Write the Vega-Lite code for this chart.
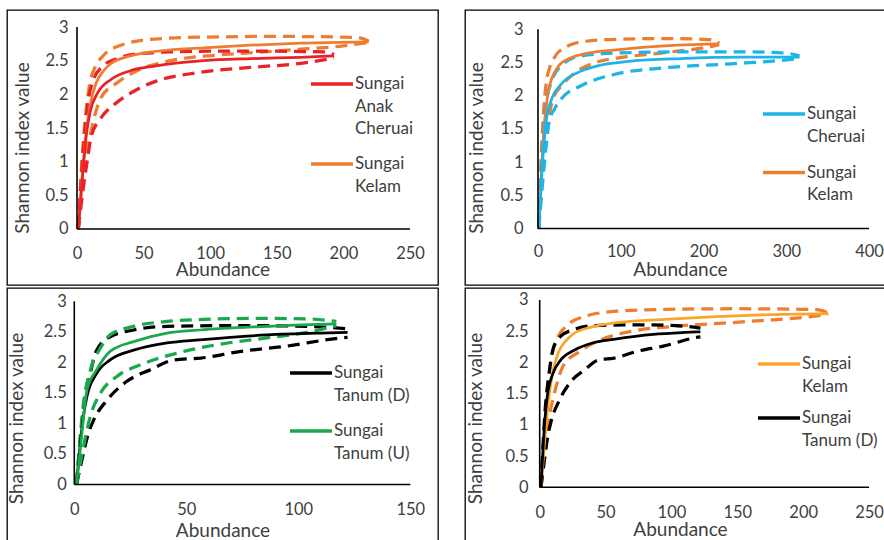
{
"$schema": "https://vega.github.io/schema/vega-lite/v6.json",
"padding": {"left": 6, "top": 9, "right": 0, "bottom": 0},
"spacing": 1,
"config": {
  "view": {"stroke": "#000000", "strokeWidth": 1.3},
  "font": "Lato",
  "axis": {"grid": false, "domain": false, "ticks": false, "labelFont": "Lato", "labelFontSize": 16.5, "labelColor": "#404040", "titleFont": "Lato", "titleFontSize": 19, "titleColor": "#404040", "titleFontWeight": "normal"},
  "legend": {"orient": "none", "symbolType": "stroke", "symbolSize": 1764, "symbolStrokeWidth": 3.5, "labelFont": "Lato", "labelFontSize": 17, "labelColor": "#404040", "labelOffset": 0, "padding": 0, "title": null, "labelLimit": 200, "direction": "vertical"}
},
"datasets": {
"rare": [
{"series":"Sungai Kelam","bound":"est","x":1,"y":0},{"series":"Sungai Kelam","bound":"est","x":4,"y":0.8},{"series":"Sungai Kelam","bound":"est","x":7,"y":1.45},{"series":"Sungai Kelam","bound":"est","x":10,"y":1.85},{"series":"Sungai Kelam","bound":"est","x":14,"y":2.15},{"series":"Sungai Kelam","bound":"est","x":20,"y":2.35},{"series":"Sungai Kelam","bound":"est","x":25,"y":2.45},{"series":"Sungai Kelam","bound":"est","x":40,"y":2.57},{"series":"Sungai Kelam","bound":"est","x":60,"y":2.64},{"series":"Sungai Kelam","bound":"est","x":95,"y":2.69},{"series":"Sungai Kelam","bound":"est","x":130,"y":2.73},{"series":"Sungai Kelam","bound":"est","x":168,"y":2.76},{"series":"Sungai Kelam","bound":"est","x":219,"y":2.78},
{"series":"Sungai Kelam","bound":"hi","x":1,"y":0},{"series":"Sungai Kelam","bound":"hi","x":4,"y":1.1},{"series":"Sungai Kelam","bound":"hi","x":7,"y":1.8},{"series":"Sungai Kelam","bound":"hi","x":10,"y":2.2},{"series":"Sungai Kelam","bound":"hi","x":14,"y":2.42},{"series":"Sungai Kelam","bound":"hi","x":20,"y":2.58},{"series":"Sungai Kelam","bound":"hi","x":33,"y":2.73},{"series":"Sungai Kelam","bound":"hi","x":58,"y":2.82},{"series":"Sungai Kelam","bound":"hi","x":95,"y":2.85},{"series":"Sungai Kelam","bound":"hi","x":150,"y":2.86},{"series":"Sungai Kelam","bound":"hi","x":200,"y":2.85},{"series":"Sungai Kelam","bound":"hi","x":212,"y":2.84},{"series":"Sungai Kelam","bound":"hi","x":219,"y":2.79},
{"series":"Sungai Kelam","bound":"lo","x":1,"y":0},{"series":"Sungai Kelam","bound":"lo","x":4,"y":0.6},{"series":"Sungai Kelam","bound":"lo","x":7,"y":1.1},{"series":"Sungai Kelam","bound":"lo","x":10.5,"y":1.45},{"series":"Sungai Kelam","bound":"lo","x":18,"y":1.95},{"series":"Sungai Kelam","bound":"lo","x":30,"y":2.17},{"series":"Sungai Kelam","bound":"lo","x":45,"y":2.35},{"series":"Sungai Kelam","bound":"lo","x":70,"y":2.5},{"series":"Sungai Kelam","bound":"lo","x":103,"y":2.58},{"series":"Sungai Kelam","bound":"lo","x":140,"y":2.63},{"series":"Sungai Kelam","bound":"lo","x":168,"y":2.67},{"series":"Sungai Kelam","bound":"lo","x":200,"y":2.72},{"series":"Sungai Kelam","bound":"lo","x":219,"y":2.77},
{"series":"Sungai Anak Cheruai","bound":"est","x":1,"y":0},{"series":"Sungai Anak Cheruai","bound":"est","x":4,"y":0.75},{"series":"Sungai Anak Cheruai","bound":"est","x":7,"y":1.4},{"series":"Sungai Anak Cheruai","bound":"est","x":10,"y":1.75},{"series":"Sungai Anak Cheruai","bound":"est","x":15.5,"y":2.02},{"series":"Sungai Anak Cheruai","bound":"est","x":25.5,"y":2.22},{"series":"Sungai Anak Cheruai","bound":"est","x":40,"y":2.35},{"series":"Sungai Anak Cheruai","bound":"est","x":58,"y":2.42},{"series":"Sungai Anak Cheruai","bound":"est","x":95,"y":2.5},{"series":"Sungai Anak Cheruai","bound":"est","x":130,"y":2.53},{"series":"Sungai Anak Cheruai","bound":"est","x":168,"y":2.55},{"series":"Sungai Anak Cheruai","bound":"est","x":193,"y":2.57},
{"series":"Sungai Anak Cheruai","bound":"hi","x":1,"y":0},{"series":"Sungai Anak Cheruai","bound":"hi","x":4,"y":1.0},{"series":"Sungai Anak Cheruai","bound":"hi","x":8,"y":1.85},{"series":"Sungai Anak Cheruai","bound":"hi","x":12,"y":2.2},{"series":"Sungai Anak Cheruai","bound":"hi","x":20,"y":2.43},{"series":"Sungai Anak Cheruai","bound":"hi","x":30,"y":2.53},{"series":"Sungai Anak Cheruai","bound":"hi","x":45,"y":2.6},{"series":"Sungai Anak Cheruai","bound":"hi","x":70,"y":2.63},{"series":"Sungai Anak Cheruai","bound":"hi","x":100,"y":2.64},{"series":"Sungai Anak Cheruai","bound":"hi","x":150,"y":2.64},{"series":"Sungai Anak Cheruai","bound":"hi","x":185,"y":2.63},{"series":"Sungai Anak Cheruai","bound":"hi","x":193,"y":2.59},
{"series":"Sungai Anak Cheruai","bound":"lo","x":1,"y":0},{"series":"Sungai Anak Cheruai","bound":"lo","x":5,"y":0.65},{"series":"Sungai Anak Cheruai","bound":"lo","x":8,"y":1.05},{"series":"Sungai Anak Cheruai","bound":"lo","x":10.5,"y":1.36},{"series":"Sungai Anak Cheruai","bound":"lo","x":18,"y":1.65},{"series":"Sungai Anak Cheruai","bound":"lo","x":28,"y":1.85},{"series":"Sungai Anak Cheruai","bound":"lo","x":43,"y":2.05},{"series":"Sungai Anak Cheruai","bound":"lo","x":60,"y":2.2},{"series":"Sungai Anak Cheruai","bound":"lo","x":90,"y":2.32},{"series":"Sungai Anak Cheruai","bound":"lo","x":130,"y":2.4},{"series":"Sungai Anak Cheruai","bound":"lo","x":168,"y":2.46},{"series":"Sungai Anak Cheruai","bound":"lo","x":193,"y":2.54},
{"series":"Sungai Cheruai","bound":"est","x":1,"y":0},{"series":"Sungai Cheruai","bound":"est","x":5,"y":0.9},{"series":"Sungai Cheruai","bound":"est","x":9.7,"y":1.6},{"series":"Sungai Cheruai","bound":"est","x":15.7,"y":1.92},{"series":"Sungai Cheruai","bound":"est","x":27.8,"y":2.17},{"series":"Sungai Cheruai","bound":"est","x":52,"y":2.37},{"series":"Sungai Cheruai","bound":"est","x":72,"y":2.45},{"series":"Sungai Cheruai","bound":"est","x":112,"y":2.52},{"series":"Sungai Cheruai","bound":"est","x":173,"y":2.56},{"series":"Sungai Cheruai","bound":"est","x":250,"y":2.58},{"series":"Sungai Cheruai","bound":"est","x":316,"y":2.58},
{"series":"Sungai Cheruai","bound":"hi","x":1,"y":0},{"series":"Sungai Cheruai","bound":"hi","x":5,"y":1.2},{"series":"Sungai Cheruai","bound":"hi","x":10,"y":1.9},{"series":"Sungai Cheruai","bound":"hi","x":16,"y":2.2},{"series":"Sungai Cheruai","bound":"hi","x":27.8,"y":2.45},{"series":"Sungai Cheruai","bound":"hi","x":52,"y":2.6},{"series":"Sungai Cheruai","bound":"hi","x":112,"y":2.65},{"series":"Sungai Cheruai","bound":"hi","x":173,"y":2.66},{"series":"Sungai Cheruai","bound":"hi","x":260,"y":2.66},{"series":"Sungai Cheruai","bound":"hi","x":300,"y":2.64},{"series":"Sungai Cheruai","bound":"hi","x":316,"y":2.6},
{"series":"Sungai Cheruai","bound":"lo","x":1,"y":0},{"series":"Sungai Cheruai","bound":"lo","x":5,"y":0.6},{"series":"Sungai Cheruai","bound":"lo","x":9.7,"y":1.22},{"series":"Sungai Cheruai","bound":"lo","x":13.7,"y":1.62},{"series":"Sungai Cheruai","bound":"lo","x":20,"y":1.8},{"series":"Sungai Cheruai","bound":"lo","x":28,"y":1.95},{"series":"Sungai Cheruai","bound":"lo","x":52,"y":2.15},{"series":"Sungai Cheruai","bound":"lo","x":92,"y":2.32},{"series":"Sungai Cheruai","bound":"lo","x":153,"y":2.42},{"series":"Sungai Cheruai","bound":"lo","x":233,"y":2.48},{"series":"Sungai Cheruai","bound":"lo","x":292,"y":2.53},{"series":"Sungai Cheruai","bound":"lo","x":316,"y":2.56},
{"series":"Sungai Tanum (D)","bound":"est","x":1,"y":0},{"series":"Sungai Tanum (D)","bound":"est","x":4,"y":1.1},{"series":"Sungai Tanum (D)","bound":"est","x":5.7,"y":1.45},{"series":"Sungai Tanum (D)","bound":"est","x":10,"y":1.82},{"series":"Sungai Tanum (D)","bound":"est","x":16,"y":2.04},{"series":"Sungai Tanum (D)","bound":"est","x":26.5,"y":2.2},{"series":"Sungai Tanum (D)","bound":"est","x":41.4,"y":2.32},{"series":"Sungai Tanum (D)","bound":"est","x":56,"y":2.37},{"series":"Sungai Tanum (D)","bound":"est","x":86,"y":2.45},{"series":"Sungai Tanum (D)","bound":"est","x":110,"y":2.48},{"series":"Sungai Tanum (D)","bound":"est","x":122,"y":2.49},
{"series":"Sungai Tanum (D)","bound":"hi","x":1,"y":0},{"series":"Sungai Tanum (D)","bound":"hi","x":4,"y":1.2},{"series":"Sungai Tanum (D)","bound":"hi","x":7,"y":1.8},{"series":"Sungai Tanum (D)","bound":"hi","x":10,"y":2.2},{"series":"Sungai Tanum (D)","bound":"hi","x":16,"y":2.42},{"series":"Sungai Tanum (D)","bound":"hi","x":26.5,"y":2.53},{"series":"Sungai Tanum (D)","bound":"hi","x":41.4,"y":2.59},{"series":"Sungai Tanum (D)","bound":"hi","x":64,"y":2.6},{"series":"Sungai Tanum (D)","bound":"hi","x":86,"y":2.6},{"series":"Sungai Tanum (D)","bound":"hi","x":110,"y":2.58},{"series":"Sungai Tanum (D)","bound":"hi","x":122,"y":2.55},
{"series":"Sungai Tanum (D)","bound":"lo","x":1,"y":0},{"series":"Sungai Tanum (D)","bound":"lo","x":4,"y":0.5},{"series":"Sungai Tanum (D)","bound":"lo","x":6,"y":0.8},{"series":"Sungai Tanum (D)","bound":"lo","x":8.7,"y":1.06},{"series":"Sungai Tanum (D)","bound":"lo","x":14.6,"y":1.38},{"series":"Sungai Tanum (D)","bound":"lo","x":23.5,"y":1.69},{"series":"Sungai Tanum (D)","bound":"lo","x":34,"y":1.88},{"series":"Sungai Tanum (D)","bound":"lo","x":44.7,"y":2.04},{"series":"Sungai Tanum (D)","bound":"lo","x":56.5,"y":2.07},{"series":"Sungai Tanum (D)","bound":"lo","x":74.4,"y":2.18},{"series":"Sungai Tanum (D)","bound":"lo","x":93.7,"y":2.26},{"series":"Sungai Tanum (D)","bound":"lo","x":119,"y":2.4},{"series":"Sungai Tanum (D)","bound":"lo","x":122,"y":2.41},
{"series":"Sungai Tanum (U)","bound":"est","x":1,"y":0},{"series":"Sungai Tanum (U)","bound":"est","x":3,"y":0.7},{"series":"Sungai Tanum (U)","bound":"est","x":5.7,"y":1.55},{"series":"Sungai Tanum (U)","bound":"est","x":10,"y":1.88},{"series":"Sungai Tanum (U)","bound":"est","x":16,"y":2.18},{"series":"Sungai Tanum (U)","bound":"est","x":26.5,"y":2.34},{"series":"Sungai Tanum (U)","bound":"est","x":41.4,"y":2.48},{"series":"Sungai Tanum (U)","bound":"est","x":56,"y":2.53},{"series":"Sungai Tanum (U)","bound":"est","x":86,"y":2.59},{"series":"Sungai Tanum (U)","bound":"est","x":105,"y":2.62},{"series":"Sungai Tanum (U)","bound":"est","x":117,"y":2.63},
{"series":"Sungai Tanum (U)","bound":"hi","x":1,"y":0},{"series":"Sungai Tanum (U)","bound":"hi","x":4,"y":1.3},{"series":"Sungai Tanum (U)","bound":"hi","x":7,"y":1.85},{"series":"Sungai Tanum (U)","bound":"hi","x":11.6,"y":2.23},{"series":"Sungai Tanum (U)","bound":"hi","x":16,"y":2.45},{"series":"Sungai Tanum (U)","bound":"hi","x":26.5,"y":2.59},{"series":"Sungai Tanum (U)","bound":"hi","x":41.4,"y":2.67},{"series":"Sungai Tanum (U)","bound":"hi","x":63.7,"y":2.71},{"series":"Sungai Tanum (U)","bound":"hi","x":86,"y":2.72},{"series":"Sungai Tanum (U)","bound":"hi","x":105,"y":2.71},{"series":"Sungai Tanum (U)","bound":"hi","x":117,"y":2.67},
{"series":"Sungai Tanum (U)","bound":"lo","x":1,"y":0},{"series":"Sungai Tanum (U)","bound":"lo","x":4,"y":0.6},{"series":"Sungai Tanum (U)","bound":"lo","x":7.1,"y":1.11},{"series":"Sungai Tanum (U)","bound":"lo","x":11.6,"y":1.49},{"series":"Sungai Tanum (U)","bound":"lo","x":19,"y":1.77},{"series":"Sungai Tanum (U)","bound":"lo","x":29.5,"y":1.96},{"series":"Sungai Tanum (U)","bound":"lo","x":45.8,"y":2.15},{"series":"Sungai Tanum (U)","bound":"lo","x":63.7,"y":2.29},{"series":"Sungai Tanum (U)","bound":"lo","x":86,"y":2.4},{"series":"Sungai Tanum (U)","bound":"lo","x":105,"y":2.5},{"series":"Sungai Tanum (U)","bound":"lo","x":117,"y":2.6}
]
},
"vconcat": [
{"hconcat": [
{
 "width": 431, "height": 275,
 "layer": [
  {"data": {"name": "rare"},
   "transform": [{"filter": "indexof(['Sungai Anak Cheruai','Sungai Kelam'], datum.series) >= 0 && datum.bound != 'est'"}],
   "mark": {"type": "line", "strokeDash": [12, 7], "strokeWidth": 3.25, "interpolate": "monotone"},
   "encoding": {
    "x": {"field": "x", "type": "quantitative", "scale": {"domain": [-52.55, 271.0], "nice": false, "zero": false}, "axis": {"values": [0, 50, 100, 150, 200, 250], "format": "d", "offset": -56, "title": "Abundance", "labelPadding": 16, "titlePadding": -1}},
    "y": {"field": "y", "type": "quantitative", "scale": {"domain": [-0.8317, 3.2525], "nice": false, "zero": false}, "axis": {"values": [0, 0.5, 1, 1.5, 2, 2.5, 3], "format": "~g", "offset": -70, "title": "Shannon index value", "labelPadding": 9, "titlePadding": 12}},
    "color": {"field": "series", "type": "nominal", "scale": {"domain": ["Sungai Anak Cheruai", "Sungai Kelam"], "range": ["#EA2129", "#EE7D2F"]}, "legend": null},
    "detail": {"field": "bound"}}},
  {"data": {"name": "rare"},
   "transform": [{"filter": "indexof(['Sungai Anak Cheruai','Sungai Kelam'], datum.series) >= 0 && datum.bound == 'est'"}],
   "mark": {"type": "line", "strokeWidth": 2.75, "interpolate": "monotone"},
   "encoding": {
    "x": {"field": "x", "type": "quantitative", "scale": {"domain": [-52.55, 271.0], "nice": false, "zero": false}, "axis": {"values": [0, 50, 100, 150, 200, 250], "format": "d", "offset": -56, "title": "Abundance", "labelPadding": 16, "titlePadding": -1}},
    "y": {"field": "y", "type": "quantitative", "scale": {"domain": [-0.8317, 3.2525], "nice": false, "zero": false}, "axis": {"values": [0, 0.5, 1, 1.5, 2, 2.5, 3], "format": "~g", "offset": -70, "title": "Shannon index value", "labelPadding": 9, "titlePadding": 12}},
    "color": {"field": "series", "type": "nominal", "scale": {"domain": ["Sungai Anak Cheruai", "Sungai Kelam"], "range": ["#EA2129", "#EE7D2F"]},
      "legend": {"legendX": 302, "legendY": 51, "rowPadding": 4, "labelExpr": "datum.label == 'Sungai Anak Cheruai' ? ['Sungai','Anak','Cheruai'] : ['Sungai', slice(datum.label, 7)]", "encoding": {"labels": {"lineHeight": {"value": 22.5}}}}}}},
  {"data": {"values": [{}]}, "mark": {"type": "rule", "color": "#000000", "strokeWidth": 1.6},
   "encoding": {"x": {"datum": 0, "type": "quantitative", "scale": {"domain": [-52.55, 271.0], "nice": false, "zero": false}},
                "y": {"datum": 0, "type": "quantitative", "scale": {"domain": [-0.8317, 3.2525], "nice": false, "zero": false}},
                "y2": {"datum": 3}}},
  {"data": {"values": [{}]}, "mark": {"type": "rule", "color": "#000000", "strokeWidth": 1.6},
   "encoding": {"x": {"datum": 0, "type": "quantitative", "scale": {"domain": [-52.55, 271.0], "nice": false, "zero": false}},
                "x2": {"datum": 250},
                "y": {"datum": 0, "type": "quantitative", "scale": {"domain": [-0.8317, 3.2525], "nice": false, "zero": false}}}}
 ],
 "resolve": {"scale": {"color": "independent"}}
},
{
 "width": 430, "height": 275,
 "layer": [
  {"data": {"name": "rare"},
   "transform": [{"filter": "indexof(['Sungai Cheruai','Sungai Kelam'], datum.series) >= 0 && datum.bound != 'est'"}],
   "mark": {"type": "line", "strokeDash": [12, 7], "strokeWidth": 3.25, "interpolate": "monotone"},
   "encoding": {
    "x": {"field": "x", "type": "quantitative", "scale": {"domain": [-88.2, 431.4], "nice": false, "zero": false}, "axis": {"values": [0, 100, 200, 300, 400], "format": "d", "offset": -56.5, "title": "Abundance", "labelPadding": 15, "titlePadding": 0.5}},
    "y": {"field": "y", "type": "quantitative", "scale": {"domain": [-0.851, 3.2907], "nice": false, "zero": false}, "axis": {"values": [0, 0.5, 1, 1.5, 2, 2.5, 3], "format": "~g", "offset": -73, "title": "Shannon index value", "labelPadding": 15, "titlePadding": 13}},
    "color": {"field": "series", "type": "nominal", "scale": {"domain": ["Sungai Cheruai", "Sungai Kelam"], "range": ["#1DB4E6", "#EE7D2F"]}, "legend": null},
    "detail": {"field": "bound"}}},
  {"data": {"name": "rare"},
   "transform": [{"filter": "indexof(['Sungai Cheruai','Sungai Kelam'], datum.series) >= 0 && datum.bound == 'est'"}],
   "mark": {"type": "line", "strokeWidth": 2.75, "interpolate": "monotone"},
   "encoding": {
    "x": {"field": "x", "type": "quantitative", "scale": {"domain": [-88.2, 431.4], "nice": false, "zero": false}, "axis": {"values": [0, 100, 200, 300, 400], "format": "d", "offset": -56.5, "title": "Abundance", "labelPadding": 15, "titlePadding": 0.5}},
    "y": {"field": "y", "type": "quantitative", "scale": {"domain": [-0.851, 3.2907], "nice": false, "zero": false}, "axis": {"values": [0, 0.5, 1, 1.5, 2, 2.5, 3], "format": "~g", "offset": -73, "title": "Shannon index value", "labelPadding": 15, "titlePadding": 13}},
    "color": {"field": "series", "type": "nominal", "scale": {"domain": ["Sungai Cheruai", "Sungai Kelam"], "range": ["#1DB4E6", "#EE7D2F"]},
      "legend": {"legendX": 296, "legendY": 81, "rowPadding": 4.5, "labelExpr": "['Sungai', slice(datum.label, 7)]", "encoding": {"labels": {"lineHeight": {"value": 22.5}}}}}}},
  {"data": {"values": [{}]}, "mark": {"type": "rule", "color": "#000000", "strokeWidth": 1.6},
   "encoding": {"x": {"datum": 0, "type": "quantitative", "scale": {"domain": [-88.2, 431.4], "nice": false, "zero": false}},
                "y": {"datum": 0, "type": "quantitative", "scale": {"domain": [-0.851, 3.2907], "nice": false, "zero": false}},
                "y2": {"datum": 3}}},
  {"data": {"values": [{}]}, "mark": {"type": "rule", "color": "#000000", "strokeWidth": 1.6},
   "encoding": {"x": {"datum": 0, "type": "quantitative", "scale": {"domain": [-88.2, 431.4], "nice": false, "zero": false}},
                "x2": {"datum": 400},
                "y": {"datum": 0, "type": "quantitative", "scale": {"domain": [-0.851, 3.2907], "nice": false, "zero": false}}}}
 ],
 "resolve": {"scale": {"color": "independent"}}
}
], "spacing": 25},
{"hconcat": [
{
 "width": 431, "height": 260,
 "layer": [
  {"data": {"name": "rare"},
   "transform": [{"filter": "indexof(['Sungai Tanum (D)','Sungai Tanum (U)'], datum.series) >= 0 && datum.bound != 'est'"}],
   "mark": {"type": "line", "strokeDash": [12, 7], "strokeWidth": 3.25, "interpolate": "monotone"},
   "encoding": {
    "x": {"field": "x", "type": "quantitative", "scale": {"domain": [-30.04, 162.37], "nice": false, "zero": false}, "axis": {"values": [0, 50, 100, 150], "format": "d", "offset": -63.5, "title": "Abundance", "labelPadding": 17, "titlePadding": 3}},
    "y": {"field": "y", "type": "quantitative", "scale": {"domain": [-1.0398, 3.2178], "nice": false, "zero": false}, "axis": {"values": [0, 0.5, 1, 1.5, 2, 2.5, 3], "format": "~g", "offset": -67.3, "title": "Shannon index value", "labelPadding": 8, "titlePadding": 17}},
    "color": {"field": "series", "type": "nominal", "scale": {"domain": ["Sungai Tanum (D)", "Sungai Tanum (U)"], "range": ["#000000", "#19A84B"]}, "legend": null},
    "detail": {"field": "bound"}}},
  {"data": {"name": "rare"},
   "transform": [{"filter": "indexof(['Sungai Tanum (D)','Sungai Tanum (U)'], datum.series) >= 0 && datum.bound == 'est'"}],
   "mark": {"type": "line", "strokeWidth": 2.75, "interpolate": "monotone"},
   "encoding": {
    "x": {"field": "x", "type": "quantitative", "scale": {"domain": [-30.04, 162.37], "nice": false, "zero": false}, "axis": {"values": [0, 50, 100, 150], "format": "d", "offset": -63.5, "title": "Abundance", "labelPadding": 17, "titlePadding": 3}},
    "y": {"field": "y", "type": "quantitative", "scale": {"domain": [-1.0398, 3.2178], "nice": false, "zero": false}, "axis": {"values": [0, 0.5, 1, 1.5, 2, 2.5, 3], "format": "~g", "offset": -67.3, "title": "Shannon index value", "labelPadding": 8, "titlePadding": 17}},
    "color": {"field": "series", "type": "nominal", "scale": {"domain": ["Sungai Tanum (D)", "Sungai Tanum (U)"], "range": ["#000000", "#19A84B"]},
      "legend": {"legendX": 281, "legendY": 62, "rowPadding": 4, "labelExpr": "['Sungai', slice(datum.label, 7)]", "encoding": {"labels": {"lineHeight": {"value": 22.5}}}}}}},
  {"data": {"values": [{}]}, "mark": {"type": "rule", "color": "#000000", "strokeWidth": 1.6},
   "encoding": {"x": {"datum": 0, "type": "quantitative", "scale": {"domain": [-30.04, 162.37], "nice": false, "zero": false}},
                "y": {"datum": 0, "type": "quantitative", "scale": {"domain": [-1.0398, 3.2178], "nice": false, "zero": false}},
                "y2": {"datum": 3}}},
  {"data": {"values": [{}]}, "mark": {"type": "rule", "color": "#000000", "strokeWidth": 1.6},
   "encoding": {"x": {"datum": 0, "type": "quantitative", "scale": {"domain": [-30.04, 162.37], "nice": false, "zero": false}},
                "x2": {"datum": 150},
                "y": {"datum": 0, "type": "quantitative", "scale": {"domain": [-1.0398, 3.2178], "nice": false, "zero": false}}}}
 ],
 "resolve": {"scale": {"color": "independent"}}
},
{
 "width": 430, "height": 260,
 "layer": [
  {"data": {"name": "rare"},
   "transform": [{"filter": "indexof(['Sungai Kelam','Sungai Tanum (D)'], datum.series) >= 0 && datum.bound != 'est'"}],
   "mark": {"type": "line", "strokeDash": [12, 7], "strokeWidth": 3.25, "interpolate": "monotone"},
   "encoding": {
    "x": {"field": "x", "type": "quantitative", "scale": {"domain": [-56.7, 269.7], "nice": false, "zero": false}, "axis": {"values": [0, 50, 100, 150, 200, 250], "format": "d", "offset": -60.7, "title": "Abundance", "labelPadding": 17, "titlePadding": -0.5}},
    "y": {"field": "y", "type": "quantitative", "scale": {"domain": [-0.9723, 3.1922], "nice": false, "zero": false}, "axis": {"values": [0, 0.5, 1, 1.5, 2, 2.5, 3], "format": "~g", "offset": -74.7, "title": "Shannon index value", "labelPadding": 11.7, "titlePadding": 19}},
    "color": {"field": "series", "type": "nominal", "scale": {"domain": ["Sungai Kelam", "Sungai Tanum (D)"], "range": ["#EE7D2F", "#000000"]}, "legend": null},
    "detail": {"field": "bound"}}},
  {"data": {"name": "rare"},
   "transform": [{"filter": "indexof(['Sungai Kelam','Sungai Tanum (D)'], datum.series) >= 0 && datum.bound == 'est'"}],
   "mark": {"type": "line", "strokeWidth": 2.75, "interpolate": "monotone"},
   "encoding": {
    "x": {"field": "x", "type": "quantitative", "scale": {"domain": [-56.7, 269.7], "nice": false, "zero": false}, "axis": {"values": [0, 50, 100, 150, 200, 250], "format": "d", "offset": -60.7, "title": "Abundance", "labelPadding": 17, "titlePadding": -0.5}},
    "y": {"field": "y", "type": "quantitative", "scale": {"domain": [-0.9723, 3.1922], "nice": false, "zero": false}, "axis": {"values": [0, 0.5, 1, 1.5, 2, 2.5, 3], "format": "~g", "offset": -74.7, "title": "Shannon index value", "labelPadding": 11.7, "titlePadding": 19}},
    "color": {"field": "series", "type": "nominal", "scale": {"domain": ["Sungai Kelam", "Sungai Tanum (D)"], "range": ["#FAA52A", "#000000"]},
      "legend": {"legendX": 291, "legendY": 53, "rowPadding": 0, "labelExpr": "['Sungai', slice(datum.label, 7)]", "encoding": {"labels": {"lineHeight": {"value": 22.5}}}}}}},
  {"data": {"values": [{}]}, "mark": {"type": "rule", "color": "#000000", "strokeWidth": 1.6},
   "encoding": {"x": {"datum": 0, "type": "quantitative", "scale": {"domain": [-56.7, 269.7], "nice": false, "zero": false}},
                "y": {"datum": 0, "type": "quantitative", "scale": {"domain": [-0.9723, 3.1922], "nice": false, "zero": false}},
                "y2": {"datum": 3}}},
  {"data": {"values": [{}]}, "mark": {"type": "rule", "color": "#000000", "strokeWidth": 1.6},
   "encoding": {"x": {"datum": 0, "type": "quantitative", "scale": {"domain": [-56.7, 269.7], "nice": false, "zero": false}},
                "x2": {"datum": 250},
                "y": {"datum": 0, "type": "quantitative", "scale": {"domain": [-0.9723, 3.1922], "nice": false, "zero": false}}}}
 ],
 "resolve": {"scale": {"color": "independent"}}
}
], "spacing": 25}
]
}
